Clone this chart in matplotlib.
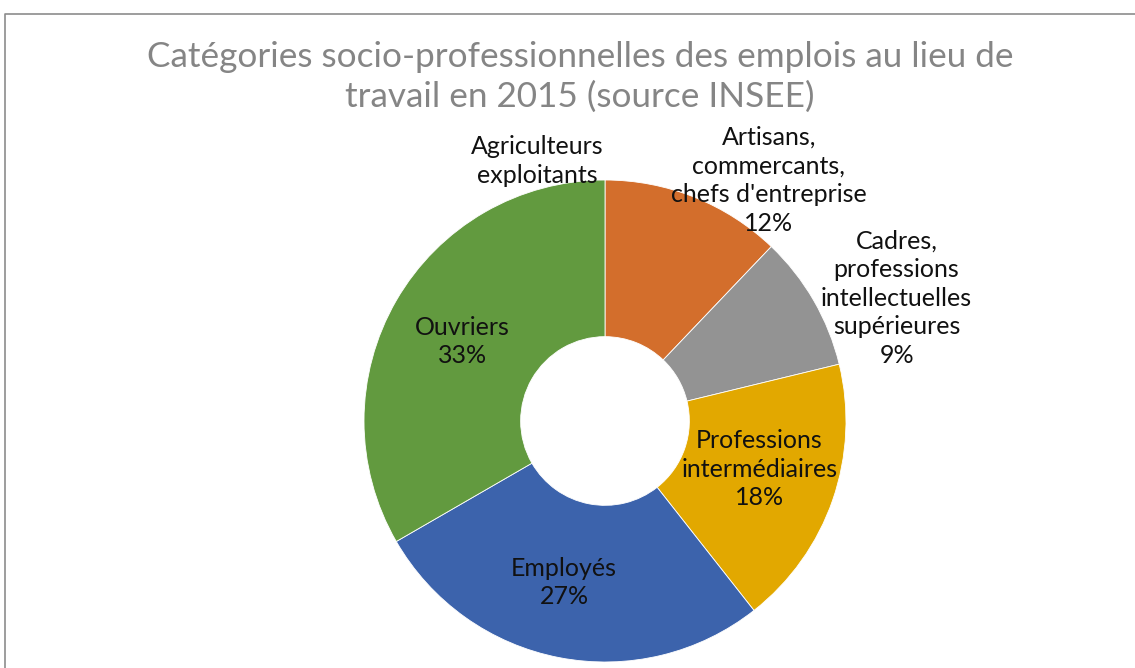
import matplotlib.pyplot as plt

# Emplois au lieu de travail par CSP, 2015 (INSEE), en %
categories = [
    "Agriculteurs\nexploitants",
    "Artisans,\ncommercants,\nchefs d'entreprise",
    "Cadres,\nprofessions\nintellectuelles\nsupérieures",
    "Professions\nintermédiaires",
    "Employés",
    "Ouvriers",
]
parts = [0, 12, 9, 18, 27, 33]
colors = ["#5B9BD5", "#D36E2C", "#939393", "#E2A800", "#3C63AC", "#629A3F"]

# position des étiquettes, en rayons depuis le centre
label_pos = [(-0.28, 1.08), (0.68, 1.00), (1.21, 0.51),
             (0.64, -0.20), (-0.17, -0.67), (-0.59, 0.33)]

W, H = 1135, 668
cx, cy, R = 605, H - 421, 241

plt.rcParams["font.family"] = ["Lato", "DejaVu Sans"]

fig = plt.figure(figsize=(W / 100, H / 100), dpi=100)
ax = fig.add_axes([0, 0, 1, 1])

ax.pie(parts, colors=colors, startangle=90, counterclock=False,
       center=(cx, cy), radius=R,
       wedgeprops=dict(width=R * 0.65, edgecolor="white", linewidth=0.6))

for name, v, (px, py) in zip(categories, parts, label_pos):
    txt = name if v == 0 else f"{name}\n{v}%"
    ax.text(cx + px * R, cy + py * R, txt, ha="center", va="center",
            fontsize=18, color="#111111", linespacing=1.3)

ax.text(580, H - 77,
        "Catégories socio-professionnelles des emplois au lieu de\n"
        "travail en 2015 (source INSEE)",
        ha="center", va="center", fontsize=25.3, color="#858585",
        linespacing=1.3)

# cadre du graphique
ax.plot([5, 5, W], [0, H - 14, H - 14], color="#8c8c8c", lw=1.2,
        clip_on=False)

ax.set_xlim(0, W)
ax.set_ylim(0, H)
ax.set_aspect("auto")
ax.axis("off")

fig.savefig("out.png", dpi=100)
